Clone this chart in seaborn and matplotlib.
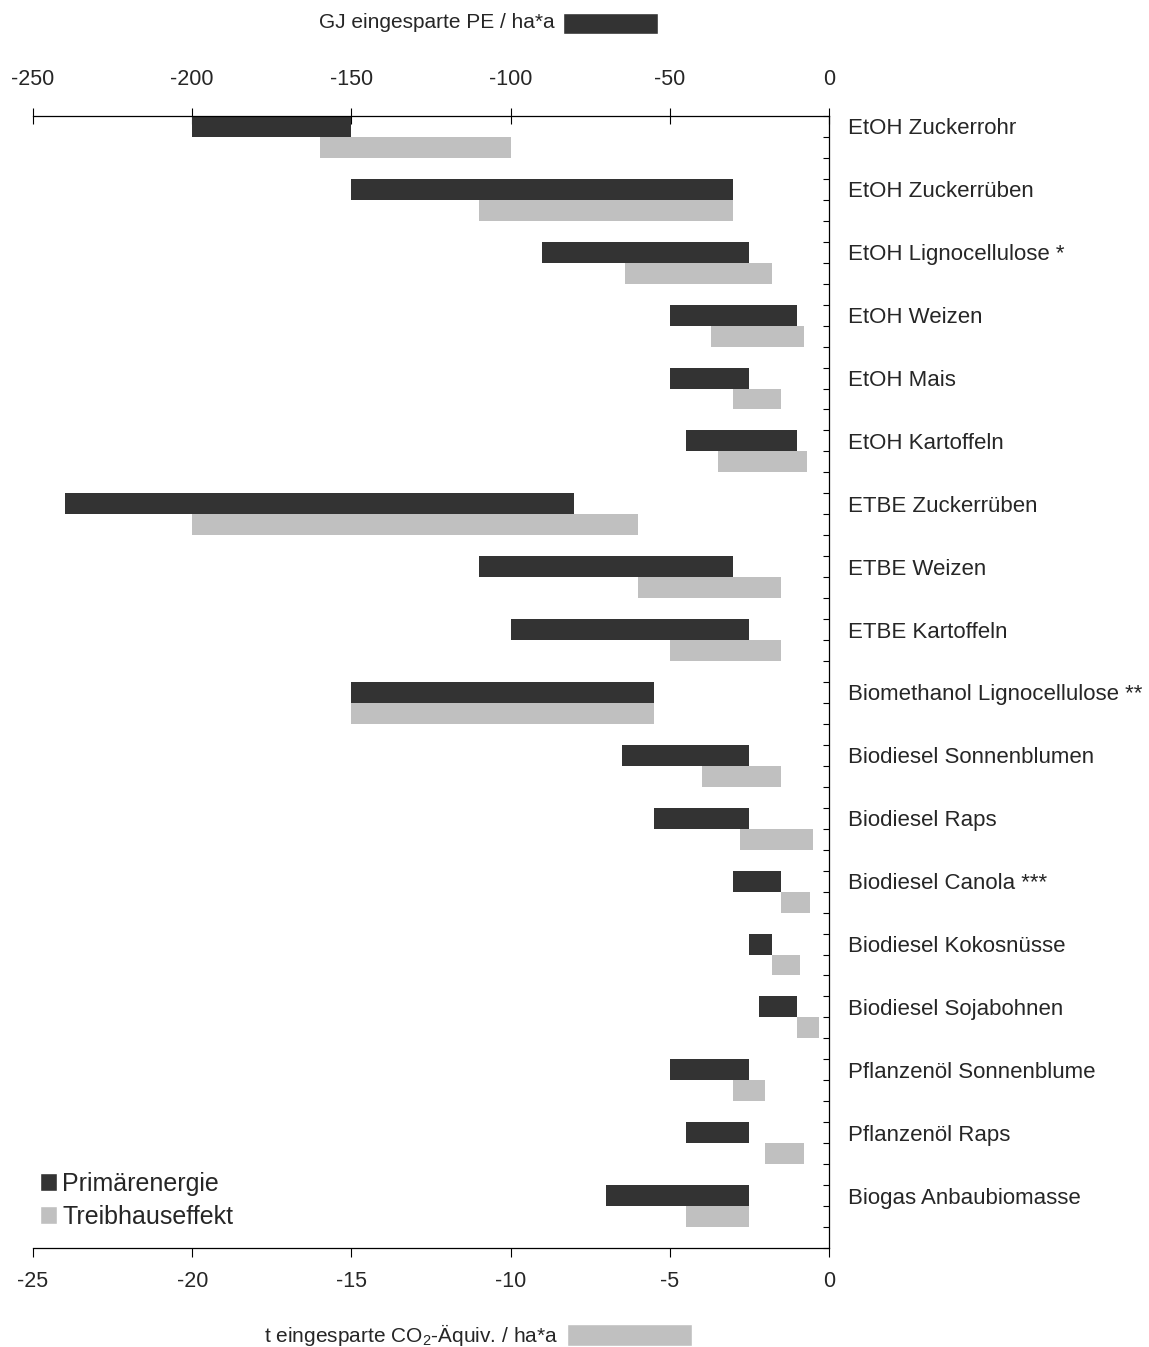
import numpy as np
import pandas as pd
import seaborn as sns
from matplotlib import pyplot as plt
from matplotlib.patches import Patch, Rectangle

# data
categories = ['EtOH Zuckerrohr', 'EtOH Zuckerrüben', 'EtOH Lignocellulose *', 'EtOH Weizen',
              'EtOH Mais', 'EtOH Kartoffeln', 'ETBE Zuckerrüben', 'ETBE Weizen',
              'ETBE Kartoffeln', 'Biomethanol Lignocellulose **', 'Biodiesel Sonnenblumen',
              'Biodiesel Raps', 'Biodiesel Canola ***', 'Biodiesel Kokosnüsse',
              'Biodiesel Sojabohnen', 'Pflanzenöl Sonnenblume', 'Pflanzenöl Raps',
              'Biogas Anbaubiomasse']
# GJ eingesparte PE / ha*a (top axis)
pe_start = [-200, -150, -90, -50, -50, -45, -240, -110, -100, -150, -65, -55, -30, -25, -22, -50, -45, -70]
pe_end = [-150, -30, -25, -10, -25, -10, -80, -30, -25, -55, -25, -25, -15, -18, -10, -25, -25, -25]
# t eingesparte CO2-Aequiv. / ha*a (bottom axis)
ghg_start = [-16, -11, -6.4, -3.7, -3, -3.5, -20, -6, -5, -15, -4, -2.8, -1.5, -1.8, -1.0, -3, -2, -4.5]
ghg_end = [-10, -3, -1.8, -0.8, -1.5, -0.7, -6, -1.5, -1.5, -5.5, -1.5, -0.5, -0.6, -0.9, -0.3, -2, -0.8, -2.5]

top_ticks = [-250, -200, -150, -100, -50, 0]
bottom_ticks = [-25, -20, -15, -10, -5, 0]

dark = '#333333'
light = '#c0c0c0'

sns.set_style('white')
plt.rcParams['font.family'] = ['Liberation Sans', 'DejaVu Sans']
plt.rcParams['mathtext.fontset'] = 'custom'
plt.rcParams['mathtext.rm'] = 'Liberation Sans'

n = len(categories)
idx = np.arange(n)
df = pd.DataFrame({
    'cat': categories,
    'pe_pos': idx - 1/6,
    'ghg_pos': idx + 1/6,
    'pe_start': pe_start,
    'pe_len': np.array(pe_end) - np.array(pe_start),
    'ghg_start': ghg_start,
    'ghg_len': np.array(ghg_end) - np.array(ghg_start),
})

W, H = 1149, 1347
fig = plt.figure(figsize=(W / 100, H / 100), dpi=100)
ax = fig.add_axes([33 / W, 1 - 1248 / H, 796 / W, 1132 / H])
ax2 = ax.twiny()

sns.barplot(data=df, x='ghg_len', y='ghg_pos', orient='y', native_scale=True, width=1/3,
            left=df['ghg_start'], color=light, saturation=1, errorbar=None, linewidth=0, ax=ax)
sns.barplot(data=df, x='pe_len', y='pe_pos', orient='y', native_scale=True, width=1/3,
            left=df['pe_start'], color=dark, saturation=1, errorbar=None, linewidth=0, ax=ax2)

ax.set_xlim(-25, 0)
ax2.set_xlim(-250, 0)
ax.set_ylim(n - 1/3, -1/3)

# spines
for s in ['left', 'top']:
    ax.spines[s].set_visible(False)
for s in ['left', 'right', 'bottom']:
    ax2.spines[s].set_visible(False)
for sp in [ax.spines['bottom'], ax.spines['right'], ax2.spines['top']]:
    sp.set_color('black')
    sp.set_linewidth(0.9)

# bottom axis
ax.set_xticks(bottom_ticks)
ax.set_xticklabels([str(t) for t in bottom_ticks], fontsize=15.5)
ax.tick_params(axis='x', direction='out', length=6.5, width=0.8, color='black', pad=10, bottom=True)

# top axis
ax2.set_xticks(top_ticks)
ax2.set_xticklabels([str(t) for t in top_ticks], fontsize=15.5)
ax2.tick_params(axis='x', direction='inout', length=11, width=0.8, color='black', pad=13, top=True)

# category axis on the right
ax.yaxis.tick_right()
ax.set_yticks(idx - 1/6)
ax.set_yticklabels(categories, fontsize=16)
ax.set_yticks(np.arange(3 * n + 1) / 3 - 1/3, minor=True)
ax.tick_params(axis='y', which='major', length=0, pad=14, left=False, right=True)
ax.tick_params(axis='y', which='minor', direction='in', length=4.5, width=0.8, color='black',
               left=False, right=True)

ax.set_xlabel('')
ax.set_ylabel('')
ax2.set_xlabel('')
ax2.set_ylabel('')

# legend
handles = [Patch(facecolor=dark, label='Primärenergie'),
           Patch(facecolor=light, label='Treibhauseffekt')]
ax.legend(handles=handles, loc='lower left', bbox_to_anchor=(0.009, 0.017), frameon=False,
          prop={'size': 18}, handlelength=0.68, handleheight=0.72,
          handletextpad=0.2, labelspacing=0.35, borderaxespad=0, borderpad=0)

# axis titles with their colour keys
fig.text(555 / W, 1 - 23 / H, 'GJ eingesparte PE / ha*a', ha='right', va='center', fontsize=15)
fig.patches.append(Rectangle((563 / W, 1 - 34 / H), 95 / W, 21 / H, facecolor=dark,
                             transform=fig.transFigure, figure=fig))
fig.text(558 / W, 1 - 1335 / H, 't eingesparte CO$_2$-Äquiv. / ha*a', ha='right', va='center',
         fontsize=15)
fig.patches.append(Rectangle((567 / W, 1 - 1346 / H), 125 / W, 22 / H, facecolor=light,
                             transform=fig.transFigure, figure=fig))

fig.savefig('out.png', dpi=100)
